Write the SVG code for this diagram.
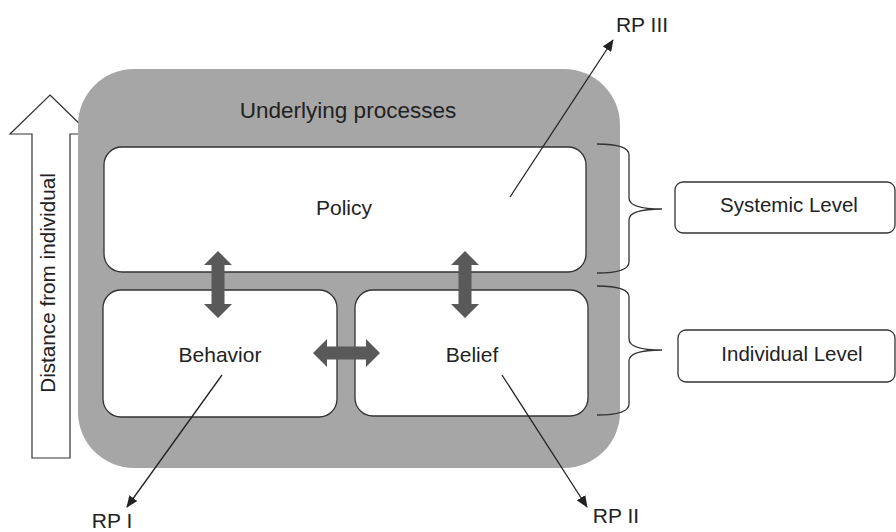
<svg xmlns="http://www.w3.org/2000/svg" width="896" height="532" viewBox="0 0 896 532">
<style>
text{font-family:"Liberation Sans",Arial,sans-serif;fill:#222;}
.lbl{font-size:21px;text-anchor:middle;}
.box{fill:#fff;stroke:#333;stroke-width:1.3;}
.dbl{fill:#595959;}
.con{stroke:#222;stroke-width:1.3;fill:none;}
.brace{stroke:#333;stroke-width:1.3;fill:none;}
</style>
<defs>
<marker id="ah" viewBox="0 0 12 10" refX="11" refY="5" markerWidth="12" markerHeight="10" markerUnits="userSpaceOnUse" orient="auto">
<path d="M0,0 L12,5 L0,10 Z" fill="#222"/>
</marker>
</defs>
<rect width="896" height="532" fill="#fff"/>

<g id="distance-arrow">
<polygon points="50,95 90,134 70,134 70,458 32,458 32,134 10,134" fill="#fff" stroke="#333" stroke-width="1.2"/>
<text class="lbl" transform="translate(55,283) rotate(-90)" style="font-size:20.7px">Distance from individual</text>
</g>

<g id="underlying-processes">
<rect x="78" y="69" width="542" height="399" rx="56" fill="#a6a6a6"/>
<text class="lbl" x="348" y="118" style="font-size:22.5px">Underlying processes</text>
</g>

<g id="policy">
<rect class="box" x="104" y="147" width="482" height="125" rx="18"/>
<text class="lbl" x="344" y="215">Policy</text>
</g>

<g id="behavior">
<rect class="box" x="103" y="290" width="234" height="127" rx="18"/>
<text class="lbl" x="220" y="362">Behavior</text>
</g>

<g id="belief">
<rect class="box" x="355" y="290" width="233" height="126" rx="18"/>
<text class="lbl" x="472" y="362">Belief</text>
</g>

<g id="systemic-level">
<rect class="box" x="675" y="182" width="220" height="51" rx="8"/>
<text class="lbl" x="789" y="212" style="font-size:20.5px">Systemic Level</text>
</g>

<g id="individual-level">
<rect class="box" x="678" y="330" width="217" height="52" rx="8"/>
<text class="lbl" x="792" y="361" style="font-size:20.5px">Individual Level</text>
</g>

<g id="rp1"><text class="lbl" x="112" y="528">RP I</text></g>
<g id="rp2"><text class="lbl" x="616" y="523">RP II</text></g>
<g id="rp3"><text class="lbl" x="642" y="32">RP III</text></g>

<g id="connectors">
<path class="dbl" d="M218,251 L232,265 L224.5,265 L224.5,304 L232,304 L218,318 L204,304 L211.5,304 L211.5,265 L204,265 Z"/>
<path class="dbl" d="M465,251 L479,265 L471.5,265 L471.5,304 L479,304 L465,318 L451,304 L458.5,304 L458.5,265 L451,265 Z"/>
<path class="dbl" d="M313,353 L327,339 L327,346.5 L366,346.5 L366,339 L380,353 L366,367 L366,359.5 L327,359.5 L327,367 Z"/>
<line class="con" x1="222" y1="375" x2="127" y2="507" marker-end="url(#ah)"/>
<line class="con" x1="502" y1="375" x2="587" y2="507" marker-end="url(#ah)"/>
<line class="con" x1="510" y1="197" x2="613" y2="40" marker-end="url(#ah)"/>
<path class="brace" d="M597,144 Q629,144 629,155 L629,198 Q629,209 662,209 Q629,209 629,220 L629,262 Q629,273 597,273"/>
<path class="brace" d="M597,286 Q629,286 629,297 L629,339 Q629,350 662,350 Q629,350 629,361 L629,404 Q629,415 597,415"/>
</g>
</svg>
